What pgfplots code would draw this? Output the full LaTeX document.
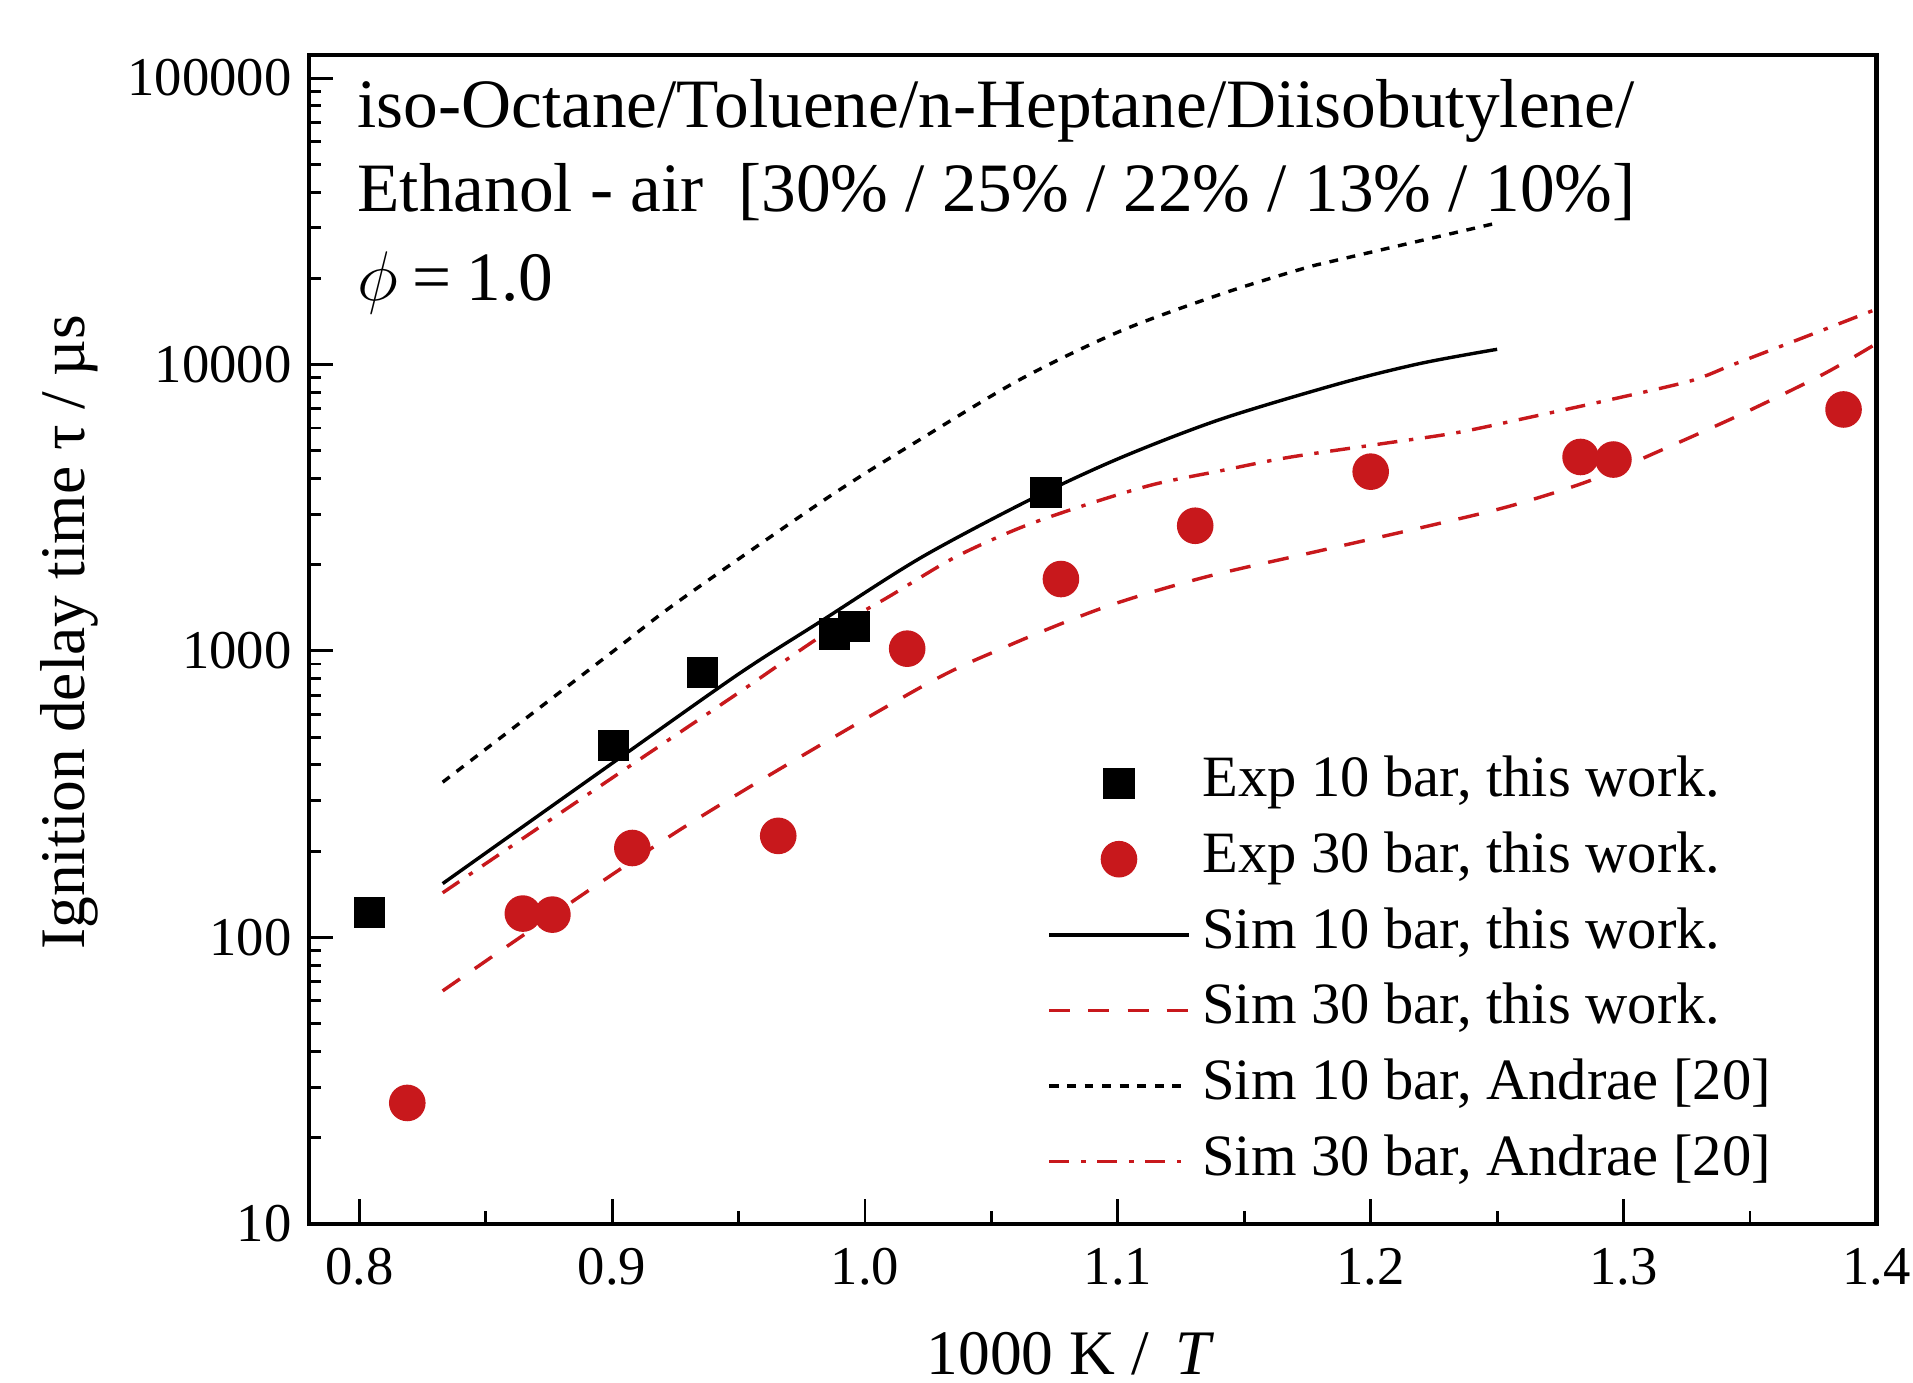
\documentclass[border=0pt]{standalone}
\usepackage{fontspec}
\setmainfont{Liberation Serif}
\usepackage{pgfplots}
\pgfplotsset{compat=1.18}
\definecolor{myred}{RGB}{200,24,28}

\begin{document}
\begin{tikzpicture}
\begin{axis}[
  scale only axis,
  width=321.25pt, height=239.5pt,
  ymode=log,
  xmin=0.78, xmax=1.4, ymin=10, ymax=120500,
  axis line style={line width=0.85pt},
  every tick/.style={line width=0.6pt, black},
  tick align=inside,
  xtick pos=bottom, ytick pos=left,
  xtick={0.8,0.9,1.0,1.1,1.2,1.3,1.4},
  xticklabels={0.8,0.9,1.0,1.1,1.2,1.3,1.4},
  minor x tick num=1,
  ytick={10,100,1000,10000,100000},
  yticklabels={10,100,1000,10000,100000},
  major tick length=5pt, minor tick length=2.6pt,
  ticklabel style={font=\fontsize{11.2}{13}\selectfont},
  xticklabel style={yshift=-1.5pt},
  every axis y label/.style={at={(axis description cs:-0.1525,0.506)}, rotate=90, anchor=center, font=\fontsize{13}{15}\selectfont},
  every axis x label/.style={at={(axis description cs:0.486,-0.1294)}, anchor=base, font=\fontsize{13}{15}\selectfont},
  ylabel={Ignition delay time τ / µs},
  xlabel={1000 K /\, \textit{T}},
  legend image code/.code={\draw[mark repeat=2,mark phase=2,#1] plot coordinates {(0pt,0pt) (14.25pt,0pt) (28.5pt,0pt)};},
  legend style={at={(rel axis cs:0.4708,0.4035)}, anchor=north west, draw=none, fill=none,
    font=\fontsize{12}{14}\selectfont, row sep=3.0pt, inner sep=0pt,
    nodes={inner sep=0.5pt, text height=8.5pt, text depth=3pt, anchor=west},
    /tikz/every odd column/.style={column sep=2pt}},
  legend cell align=left,
]
% Experiments
\addplot[only marks, mark=square*, mark size=3pt, mark options={fill=black, draw=black}] coordinates {
(0.804,122) (0.9005,466) (0.9358,838) (0.9879,1146) (0.9957,1217) (1.0716,3575)
};
\addlegendentry{Exp 10 bar, this work.}
\addplot[only marks, mark=*, mark size=3.55pt, mark options={fill=myred, draw=myred}] coordinates {
(0.819,26.4) (0.8647,121) (0.8764,120) (0.908,205) (0.9657,226) (1.0167,1018)
(1.0775,1782) (1.1306,2735) (1.200,4225) (1.283,4754) (1.296,4657) (1.387,6966)
};
\addlegendentry{Exp 30 bar, this work.}
% Sim 10 bar this work
\addplot[black, line width=0.7pt, smooth] coordinates {
(0.833,154) (0.9,405) (0.95,830) (0.983,1276) (1.0222,2118) (1.0657,3388)
(1.1012,4730) (1.1407,6440) (1.1881,8600) (1.22,10100) (1.25,11300)
};
\addlegendentry{Sim 10 bar, this work.}
% Sim 30 bar this work
\addplot[myred, line width=0.7pt, smooth, dash pattern=on 4.3pt off 3.7pt] coordinates {
(0.833,65) (0.9267,237) (1.0196,726) (1.0551,1028) (1.0947,1420) (1.1341,1806)
(1.1802,2240) (1.2248,2756) (1.2556,3213) (1.2865,3926) (1.3173,5130)
(1.348,6795) (1.379,9250) (1.4,11830)
};
\addlegendentry{Sim 30 bar, this work.}
% Sim 10 bar Andrae
\addplot[black, line width=0.7pt, smooth, dash pattern=on 1.8pt off 1.8pt] coordinates {
(0.833,348) (0.9,990) (0.9266,1497) (0.9854,3435) (1.0222,5500) (1.0617,8900)
(1.1012,13100) (1.1407,17600) (1.1723,21500) (1.1881,23300) (1.25,31200)
};
\addlegendentry{Sim 10 bar, Andrae [20]}
% Sim 30 bar Andrae
\addplot[myred, line width=0.7pt, smooth, dash pattern=on 4.1pt off 2.4pt on 0.9pt off 2.4pt] coordinates {
(0.833,143) (0.9,360) (0.95,714) (0.984,1146) (1.009,1538) (1.0354,2118)
(1.0617,2698) (1.088,3250) (1.1144,3817) (1.1407,4256) (1.167,4730)
(1.2032,5270) (1.234,5780) (1.2649,6600) (1.2957,7570) (1.3266,8770)
(1.342,9890) (1.3575,11160) (1.373,12600) (1.4,15600)
};
\addlegendentry{Sim 30 bar, Andrae [20]}
% Annotation
\node[anchor=base west, inner sep=0pt, font=\fontsize{14.2}{17}\selectfont] at ([xshift=9.8pt,yshift=-14.8pt]rel axis cs:0,1) {iso-Octane/Toluene/n-Heptane/Diisobutylene/};
\node[anchor=base west, inner sep=0pt, font=\fontsize{14.2}{17}\selectfont] at ([xshift=9.8pt,yshift=-32.1pt]rel axis cs:0,1) {Ethanol - air \ [30\% / 25\% / 22\% / 13\% / 10\%]};
\node[anchor=base west, inner sep=0pt, font=\fontsize{14.2}{17}\selectfont] at ([xshift=9.8pt,yshift=-50.3pt]rel axis cs:0,1) {$\phi$\hspace{3pt}=\hspace{3pt}1.0};
\end{axis}
\pgfresetboundingbox
\path[use as bounding box] ([shift={(-63.25pt,-32.5pt)}]current axis.south west) rectangle ([shift={(7.5pt,11.25pt)}]current axis.north east);
\end{tikzpicture}
\end{document}
